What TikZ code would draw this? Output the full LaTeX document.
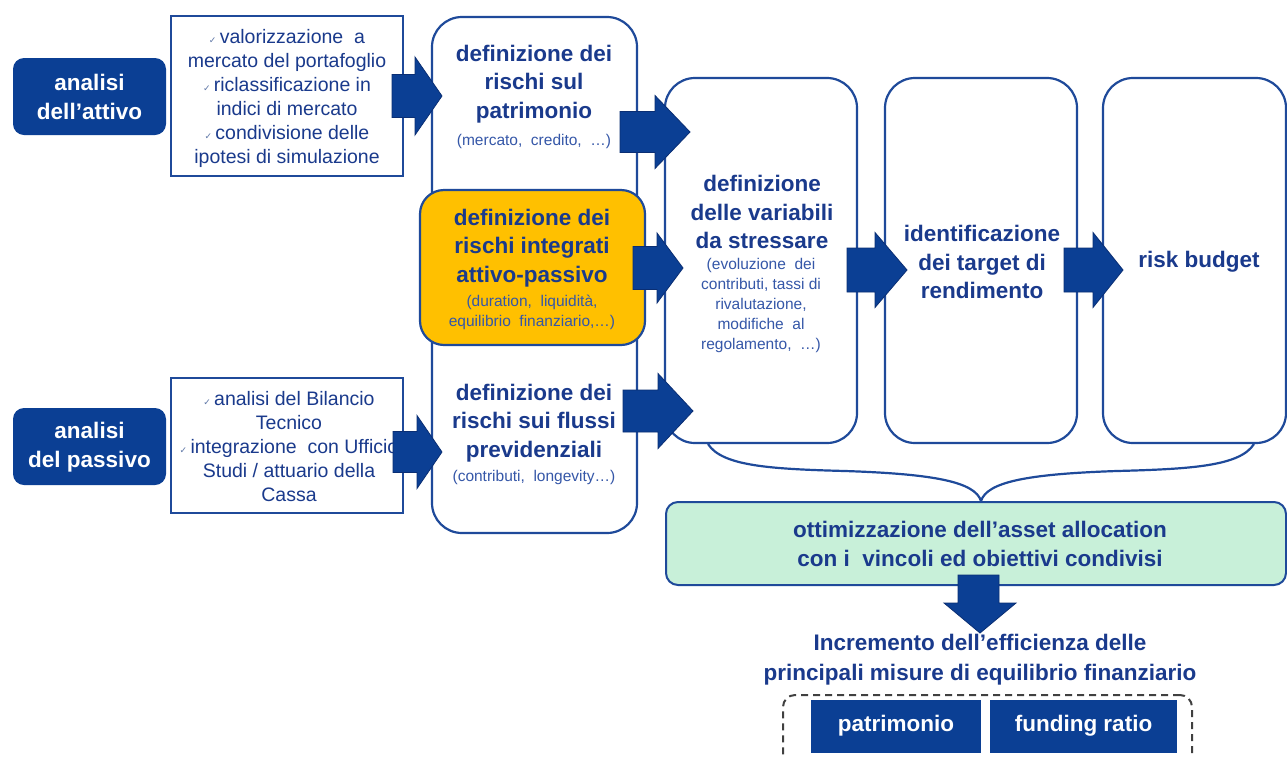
\documentclass[tikz,border=0pt]{standalone}
\usepackage{fontspec}
\setmainfont{Liberation Sans}
\newfontfamily\symfont{DejaVu Sans}
\definecolor{dkblue}{HTML}{0B3F94}
\definecolor{txtblue}{HTML}{1A3A8C}
\definecolor{subblue}{HTML}{3557A8}
\definecolor{lineblue}{HTML}{1F4A9A}
\definecolor{yell}{HTML}{FFC000}
\definecolor{mint}{HTML}{C8F0D9}
\definecolor{arrowedge}{HTML}{0A2E73}
\definecolor{ckgray}{HTML}{6078A8}
\definecolor{dashgray}{HTML}{404040}
\newcommand{\ck}{{\symfont\fontsize{9}{9}\selectfont\textcolor{ckgray}{✓}}\,}
\newcommand{\rarrow}[6]{%
  \filldraw[blockarrow] (#1,{#4-#5}) -- (#2,{#4-#5}) -- (#2,{#4-#6}) -- (#3,#4)
    -- (#2,{#4+#6}) -- (#2,{#4+#5}) -- (#1,{#4+#5}) -- cycle;}
\tikzset{
  colbox/.style={draw=lineblue, line width=2.2pt, rounded corners=30pt, fill=white, inner sep=0pt},
  yellbox/.style={draw=lineblue, line width=2.2pt, rounded corners=24pt, fill=yell, inner sep=0pt},
  listbox/.style={draw=lineblue, line width=2pt, fill=white, inner sep=0pt},
  lblbox/.style={fill=dkblue, rounded corners=11pt, inner sep=0pt},
  greenbox/.style={draw=lineblue, line width=2pt, rounded corners=12pt, fill=mint, inner sep=0pt},
  dashbox/.style={draw=dashgray, line width=2pt, dash pattern=on 7pt off 5pt, rounded corners=12pt, inner sep=0pt},
  resbox/.style={fill=dkblue, inner sep=0pt},
  blockarrow/.style={fill=dkblue, draw=arrowedge, line width=0.8pt, line join=miter},
  hdr/.style={text=txtblue, align=center, font=\fontsize{22.5}{28.5}\selectfont\bfseries, inner sep=0pt},
  whdr/.style={text=white, align=center, font=\fontsize{22.5}{29}\selectfont\bfseries, inner sep=0pt},
  subt/.style={text=subblue, align=center, font=\fontsize{15.5}{20}\selectfont, inner sep=0pt},
  lst/.style={text=txtblue, align=center, font=\fontsize{19.5}{24}\selectfont, inner sep=0pt},
}
\begin{document}
\begin{tikzpicture}[x=1pt,y=-1pt]
\clip (0,0) rectangle (1287,756);
\fill[white] (0,0) rectangle (1287,756);

% columns
\node[colbox, minimum width=205pt, minimum height=516pt] (c1) at (534.5,275) {};
\node[colbox, minimum width=192pt, minimum height=365pt] (c2) at (761,260.5) {};
\node[colbox, minimum width=192pt, minimum height=365pt] (c3) at (981,260.5) {};
\node[colbox, minimum width=183pt, minimum height=365pt] (c4) at (1194.5,260.5) {};
\node[yellbox, minimum width=225pt, minimum height=155pt] (yb) at (532.5,267.5) {};

% left boxes
\node[lblbox, minimum width=153pt, minimum height=77pt] (att) at (89.5,96.5) {};
\node[lblbox, minimum width=153pt, minimum height=77pt] (pas) at (89.5,446.5) {};
\node[listbox, minimum width=232pt, minimum height=160pt] (tb1) at (287,96) {};
\node[listbox, minimum width=232pt, minimum height=135pt] (tb2) at (287,445.5) {};

% texts
\node[whdr] (attT) at (89.5,97) {analisi\\dell’attivo};
\node[whdr] (pasT) at (89.5,447) {analisi\\del passivo};
\node[lst] (tb1T) at (287,98) {\ck valorizzazione~ a\\mercato del portafoglio\\\ck riclassificazione in\\indici di mercato\\\ck condivisione delle\\ipotesi di simulazione};
\node[lst] (tb2T) at (289,447) {\ck analisi del Bilancio\\Tecnico\\\ck integrazione~ con Ufficio\\Studi / attuario della\\Cassa};

\node[hdr] (c1aT) at (534,84) {definizione dei\\rischi sul\\patrimonio};
\node[subt] (c1aS) at (534,141) {(mercato,~ credito,~ …)};
\node[hdr] (ybT) at (532,248) {definizione dei\\rischi integrati\\attivo-passivo};
\node[subt] (ybS) at (532,312) {(duration,~ liquidità,\\equilibrio~ finanziario,…)};
\node[hdr] (c1bT) at (534,423) {definizione dei\\rischi sui flussi\\previdenziali};
\node[subt] (c1bS) at (534,477) {(contributi,~ longevity…)};
\node[hdr] (c2T) at (762,212) {definizione\\delle variabili\\da stressare};
\node[subt] (c2S) at (761,305) {(evoluzione~ dei\\contributi, tassi di\\rivalutazione,\\modifiche~ al\\regolamento,~ …)};
\node[hdr] (c3T) at (982,262) {identificazione\\dei target di\\rendimento};
\node[hdr] (c4T) at (1199,262) {risk budget};

% brace
\draw[lineblue, line width=2.2pt]
  (708,444) .. controls (722,466) and (770,469) .. (845,471)
  .. controls (935,474) and (975,482) .. (981,501)
  .. controls (987,482) and (1027,474) .. (1117,471)
  .. controls (1192,469) and (1240,466) .. (1254,444);

% green box
\node[greenbox, minimum width=620pt, minimum height=83pt] (gb) at (976,543.5) {};
\node[hdr, font=\fontsize{22.5}{28.5}\selectfont\bfseries] (gbT) at (980,544) {ottimizzazione dell’asset allocation\\con i~ vincoli ed obiettivi condivisi};

% block arrows
\rarrow{392}{415}{442}{96}{21.5}{39}
\rarrow{393}{417}{442}{452}{20.5}{36.5}
\rarrow{620}{655}{690}{132}{20.5}{36.5}
\rarrow{633}{657}{683}{268}{21.5}{35}
\rarrow{623}{658}{693}{411}{21}{37.5}
\rarrow{847}{875}{907}{270}{22}{37.5}
\rarrow{1064}{1093}{1123}{270}{22}{37.5}
\filldraw[blockarrow] (958,575) -- (999,575) -- (999,603) -- (1016,603) -- (980,633) -- (944,603) -- (958,603) -- cycle;

% result
\node[hdr, font=\fontsize{22.5}{30}\selectfont\bfseries] (incT) at (980,660) {Incremento dell’efficienza delle\\principali misure di equilibrio finanziario};
\node[dashbox, minimum width=409pt, minimum height=84pt] (db) at (987.5,737) {};
\node[resbox, minimum width=170pt, minimum height=53pt] (pat) at (896,726.5) {};
\node[resbox, minimum width=187pt, minimum height=53pt] (fun) at (1083.5,726.5) {};
\node[whdr] (patT) at (896,726) {patrimonio};
\node[whdr] (funT) at (1083.5,726) {funding ratio};
\end{tikzpicture}
\end{document}
